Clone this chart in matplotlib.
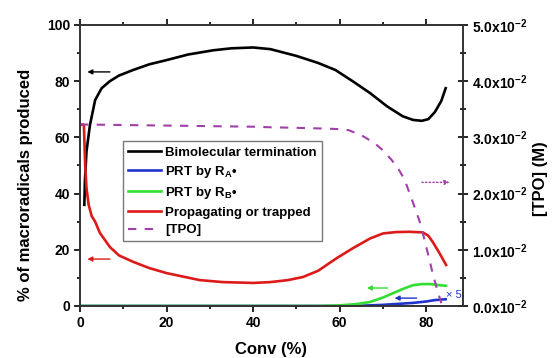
import matplotlib
matplotlib.use('agg')
import matplotlib.pyplot as plt
from matplotlib.ticker import MultipleLocator, FuncFormatter

plt.rcParams['font.family'] = ['Liberation Sans', 'DejaVu Sans']
plt.rcParams['font.weight'] = 'bold'
plt.rcParams['mathtext.fontset'] = 'custom'
plt.rcParams['mathtext.rm'] = 'Liberation Sans:bold'
plt.rcParams['mathtext.it'] = 'Liberation Sans:bold'
plt.rcParams['mathtext.bf'] = 'Liberation Sans:bold'

# Bimolecular termination (% of macroradicals)
bim_x = [1.0, 1.15, 1.5, 2.3, 3.5, 5, 6.9, 9, 12.3, 16, 20, 25, 30.8, 35, 40, 44, 50, 55,
         59, 63, 67, 71, 74.6, 77, 79, 80.5, 82, 83.5, 84.5]
bim_y = [36, 45, 55, 64.4, 73.3, 77.5, 80, 82, 84, 86, 87.5, 89.5, 91, 91.7, 92, 91.4, 89,
         86.5, 84, 80, 75.8, 71, 67.5, 66.2, 65.9, 66.5, 69, 73, 77.5]

# PRT by RA (x5)
rA_x = [0, 60, 65, 70, 74, 77, 80, 82, 84.5]
rA_y = [0, 0, 0.1, 0.4, 0.8, 1.1, 1.6, 2.1, 2.4]

# PRT by RB
rB_x = [0, 55, 60, 64, 67, 70, 73, 75, 77, 79, 81, 83, 84.6]
rB_y = [0, 0, 0.2, 0.7, 1.4, 3, 5, 6.3, 7.4, 7.8, 7.8, 7.4, 7.2]

# Propagating or trapped
prop_x = [0.2, 0.9, 1.2, 1.5, 2.0, 2.7, 3.5, 4.6, 6.9, 9, 12.3, 16, 20, 27.7, 33, 40, 44,
          48, 51.5, 55, 59.3, 63, 67, 70, 73, 76, 79.2, 80.5, 81.5, 83, 84.6]
prop_y = [64.5, 64.5, 50, 42, 36, 32, 30, 26, 21, 18, 15.7, 13.5, 11.7, 9.2, 8.5, 8.2, 8.5,
          9.2, 10.3, 12.5, 17, 20.5, 24, 25.8, 26.3, 26.4, 26.2, 25, 22.8, 19, 14.6]

# [TPO] (M)
tpo_x = [0, 10, 20, 30, 40, 44, 50, 55, 59, 62, 65, 68, 70, 72, 73.5, 75, 77, 78.5, 79.2,
         80.5, 81.5, 82.5, 83.5]
tpo_y = [0.0323, 0.0322, 0.0321, 0.0320, 0.0319, 0.0318, 0.0317, 0.0316, 0.0315, 0.0313,
         0.0304, 0.0290, 0.0277, 0.0260, 0.0245, 0.0225, 0.0183, 0.0150, 0.0130, 0.0090,
         0.0058, 0.0030, 0.0005]

# direction arrows: (tail x, head x, y on left axis, colour, style)
arrows = [(6.9, 1.7, 83.3, 'black', '-'),
          (6.9, 1.7, 16.7, '#dd1a1a', '-'),
          (71.1, 66.3, 6.4, '#33dd33', '-'),
          (77.8, 72.7, 2.8, '#2233cc', '-'),
          (79.0, 85.4, 44.0, '#a040a8', ':')]

fig = plt.figure(figsize=(5.54, 3.58), dpi=100)
ax = fig.add_axes([0.1444, 0.1453, 0.6913, 0.7849])
ax2 = ax.twinx()

l1, = ax.plot(bim_x, bim_y, color='black', lw=1.9, label='Bimolecular termination')
l2, = ax.plot(rA_x, rA_y, color='#2233cc', lw=1.9, label='PRT by R$_{A}$•')
l3, = ax.plot(rB_x, rB_y, color='#33dd33', lw=1.9, label='PRT by R$_{B}$•')
l4, = ax.plot(prop_x, prop_y, color='#dd1a1a', lw=1.9, label='Propagating or trapped')
l5, = ax2.plot(tpo_x, tpo_y, color='#a040a8', lw=1.5, ls=(0, (4, 4)), label='[TPO]')

for x0, x1, y, c, s in arrows:
    ax.annotate('', xy=(x1, y), xytext=(x0, y),
                arrowprops=dict(arrowstyle='-|>', color=c, lw=1, ls=s,
                                mutation_scale=7, shrinkA=0, shrinkB=0))
ax.text(84.5, 3.8, '× 5', color='#2233cc', fontsize=8, fontweight='normal',
        va='center', ha='left')

ax.set_xlim(0, 88.5)
ax.set_ylim(0, 100)
ax2.set_ylim(0, 0.05)

ax.xaxis.set_major_locator(MultipleLocator(20))
ax.xaxis.set_minor_locator(MultipleLocator(10))
ax.yaxis.set_major_locator(MultipleLocator(20))
ax.yaxis.set_minor_locator(MultipleLocator(10))
ax2.yaxis.set_major_locator(MultipleLocator(0.01))
ax2.yaxis.set_minor_locator(MultipleLocator(0.005))
ax2.yaxis.set_major_formatter(FuncFormatter(lambda v, p: '%.1fx10$^{-2}$' % (v * 100)))

ax.tick_params(axis='both', which='major', direction='out', length=4, width=1.2,
               labelsize=10, pad=3)
ax.tick_params(axis='both', which='minor', direction='out', length=2.5, width=1.2)
ax.tick_params(axis='x', top=True, which='both')
ax2.tick_params(axis='y', which='major', direction='inout', length=7, width=1.2,
                labelsize=10, pad=3)
ax2.tick_params(axis='y', which='minor', direction='inout', length=5, width=1.2)

for a in (ax, ax2):
    for sp in a.spines.values():
        sp.set_linewidth(1.2)
        sp.set_color('#333333')

ax.set_xlabel('Conv (%)', fontsize=12, fontweight='bold')
ax.set_ylabel('% of macroradicals produced', fontsize=12, fontweight='bold')
ax2.set_ylabel('[TPO] (M)', fontsize=12, fontweight='bold')
ax.xaxis.set_label_coords(0.5, -0.128)
ax.yaxis.set_label_coords(-0.123, 0.43)
ax2.yaxis.set_label_coords(1.183, 0.455)

leg = ax.legend(handles=[l1, l2, l3, l4, l5], loc='upper left',
                bbox_to_anchor=(0.112, 0.587), borderaxespad=0, fontsize=9.5,
                fancybox=False, framealpha=1, edgecolor='#777777',
                handlelength=2.5, handletextpad=0.3, labelspacing=0.4,
                borderpad=0.4)
leg.get_frame().set_linewidth(1)

fig.savefig('out.png', dpi=100)
